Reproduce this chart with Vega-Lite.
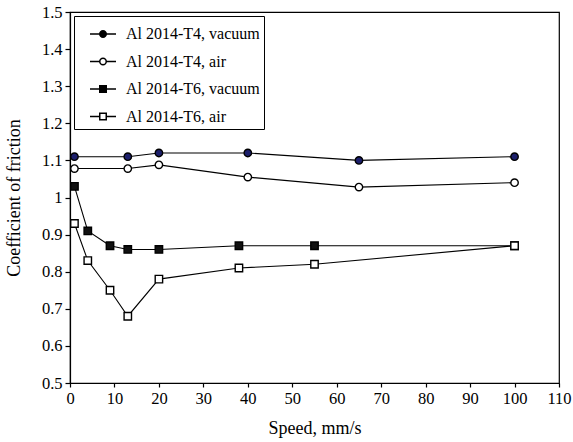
{
  "$schema": "https://vega.github.io/schema/vega-lite/v6.json",
  "autosize": "none",
  "width": 489,
  "height": 371,
  "padding": {"left": 70, "top": 12, "right": 14, "bottom": 59},
  "background": "white",
  "config": {
    "font": "Liberation Serif",
    "view": {"stroke": "black", "strokeWidth": 1.2},
    "axis": {
      "grid": false,
      "domainColor": "black",
      "domainWidth": 1.2,
      "tickColor": "black",
      "tickWidth": 1.2,
      "tickSize": 5,
      "labelFlush": false,
      "labelColor": "black",
      "labelFont": "Liberation Serif",
      "labelFontSize": 16.5,
      "titleFont": "Liberation Serif",
      "titleFontSize": 18,
      "titleFontWeight": "normal",
      "titleColor": "black"
    }
  },
  "data": {
    "values": [
      {"series": "Al 2014-T4, vacuum", "speed": 1, "cof": 1.11},
      {"series": "Al 2014-T4, vacuum", "speed": 13, "cof": 1.11},
      {"series": "Al 2014-T4, vacuum", "speed": 20, "cof": 1.12},
      {"series": "Al 2014-T4, vacuum", "speed": 40, "cof": 1.12},
      {"series": "Al 2014-T4, vacuum", "speed": 65, "cof": 1.1},
      {"series": "Al 2014-T4, vacuum", "speed": 100, "cof": 1.11},
      {"series": "Al 2014-T4, air", "speed": 1, "cof": 1.078},
      {"series": "Al 2014-T4, air", "speed": 13, "cof": 1.078},
      {"series": "Al 2014-T4, air", "speed": 20, "cof": 1.088},
      {"series": "Al 2014-T4, air", "speed": 40, "cof": 1.055},
      {"series": "Al 2014-T4, air", "speed": 65, "cof": 1.028},
      {"series": "Al 2014-T4, air", "speed": 100, "cof": 1.04},
      {"series": "Al 2014-T6, vacuum", "speed": 1, "cof": 1.03},
      {"series": "Al 2014-T6, vacuum", "speed": 4, "cof": 0.91},
      {"series": "Al 2014-T6, vacuum", "speed": 9, "cof": 0.87},
      {"series": "Al 2014-T6, vacuum", "speed": 13, "cof": 0.86},
      {"series": "Al 2014-T6, vacuum", "speed": 20, "cof": 0.86},
      {"series": "Al 2014-T6, vacuum", "speed": 38, "cof": 0.87},
      {"series": "Al 2014-T6, vacuum", "speed": 55, "cof": 0.87},
      {"series": "Al 2014-T6, vacuum", "speed": 100, "cof": 0.87},
      {"series": "Al 2014-T6, air", "speed": 1, "cof": 0.93},
      {"series": "Al 2014-T6, air", "speed": 4, "cof": 0.83},
      {"series": "Al 2014-T6, air", "speed": 9, "cof": 0.75},
      {"series": "Al 2014-T6, air", "speed": 13, "cof": 0.68},
      {"series": "Al 2014-T6, air", "speed": 20, "cof": 0.78},
      {"series": "Al 2014-T6, air", "speed": 38, "cof": 0.81},
      {"series": "Al 2014-T6, air", "speed": 55, "cof": 0.82},
      {"series": "Al 2014-T6, air", "speed": 100, "cof": 0.87}
    ]
  },
  "encoding": {
    "x": {
      "field": "speed", "type": "quantitative",
      "scale": {"domain": [0, 110], "nice": false, "zero": false},
      "axis": {"title": "Speed, mm/s", "values": [0,10,20,30,40,50,60,70,80,90,100,110], "tickSize": 4, "labelPadding": 3, "titlePadding": 13}
    },
    "y": {
      "field": "cof", "type": "quantitative",
      "scale": {"domain": [0.5, 1.5], "nice": false, "zero": false},
      "axis": {"title": "Coefficient of friction", "values": [0.5,0.6,0.7,0.8,0.9,1.0,1.1,1.2,1.3,1.4,1.5], "format": ".2~f", "labelPadding": 3, "titlePadding": 18}
    }
  },
  "resolve": {"scale": {"shape": "independent", "fill": "independent"}, "legend": {"shape": "independent", "fill": "independent"}},
  "layer": [
    {
      "mark": {"type": "line", "color": "black", "strokeWidth": 1.1},
      "encoding": {"detail": {"field": "series"}}
    },
    {
      "mark": {"type": "point", "filled": false, "stroke": "black", "strokeWidth": 1.4, "opacity": 1, "size": 55},
      "encoding": {
        "shape": {
          "field": "series", "type": "nominal",
          "scale": {
            "domain": ["Al 2014-T4, vacuum", "Al 2014-T4, air", "Al 2014-T6, vacuum", "Al 2014-T6, air"],
            "range": ["circle", "circle", "square", "square"]
          },
          "legend": null
        },
        "fill": {
          "field": "series", "type": "nominal",
          "scale": {
            "domain": ["Al 2014-T4, vacuum", "Al 2014-T4, air", "Al 2014-T6, vacuum", "Al 2014-T6, air"],
            "range": ["#1c1f6b", "white", "#111111", "white"]
          },
          "legend": null
        }
      }
    },
    {
      "mark": {"type": "point", "filled": true, "stroke": "black", "strokeWidth": 1.3, "opacity": 0, "size": 676},
      "encoding": {
        "shape": {
          "field": "series", "type": "nominal",
          "scale": {
            "domain": ["Al 2014-T4, vacuum", "Al 2014-T4, air", "Al 2014-T6, vacuum", "Al 2014-T6, air"],
            "range": [
              "M-1,0H-0.25M0.25,0H1M0.25,0A0.25,0.25 0 1 1 -0.25,0A0.25,0.25 0 1 1 0.25,0ZM0.15,0A0.15,0.15 0 1 1 -0.15,0A0.15,0.15 0 1 1 0.15,0ZM0.06,0A0.06,0.06 0 1 1 -0.06,0A0.06,0.06 0 1 1 0.06,0ZM-0.25,0H0.25",
              "M-1,0H-0.25M0.25,0H1M0.25,0A0.25,0.25 0 1 1 -0.25,0A0.25,0.25 0 1 1 0.25,0Z",
              "M-1,0H-0.25M0.25,0H1M-0.25,-0.25H0.25V0.25H-0.25ZM-0.25,-0.15H0.25M-0.25,-0.05H0.25M-0.25,0.05H0.25M-0.25,0.15H0.25",
              "M-1,0H-0.25M0.25,0H1M-0.25,-0.25H0.25V0.25H-0.25Z"
            ]
          },
          "legend": {
            "title": null,
            "orient": "none",
            "legendX": 4,
            "legendY": 4,
            "strokeColor": "black",
            "padding": 4,
            "symbolSize": 676,
            "symbolOffset": 11,
            "labelFont": "Liberation Serif",
            "labelFontSize": 16,
            "labelColor": "black",
            "labelOffset": 9,
            "rowPadding": 5.5,
            "encoding": {
              "symbols": {
                "update": {
                  "fill": {"signal": "datum.value == 'Al 2014-T4, vacuum' ? '#1c1f6b' : datum.value == 'Al 2014-T6, vacuum' ? '#111111' : 'white'"},
                  "stroke": {"value": "black"},
                  "strokeWidth": {"value": 1.3},
                  "opacity": {"value": 1},
                  "fillOpacity": {"value": 1},
                  "strokeOpacity": {"value": 1}
                }
              }
            }
          }
        },
        "fill": {
          "field": "series", "type": "nominal",
          "scale": {
            "domain": ["Al 2014-T4, vacuum", "Al 2014-T4, air", "Al 2014-T6, vacuum", "Al 2014-T6, air"],
            "range": ["#1c1f6b", "white", "#111111", "white"]
          },
          "legend": {
            "title": null,
            "orient": "none",
            "legendX": 4,
            "legendY": 4,
            "strokeColor": "black",
            "padding": 4,
            "symbolSize": 676,
            "symbolOffset": 11,
            "labelFont": "Liberation Serif",
            "labelFontSize": 16,
            "labelColor": "black",
            "labelOffset": 9,
            "rowPadding": 5.5,
            "encoding": {
              "symbols": {
                "update": {
                  "fill": {"signal": "datum.value == 'Al 2014-T4, vacuum' ? '#1c1f6b' : datum.value == 'Al 2014-T6, vacuum' ? '#111111' : 'white'"},
                  "stroke": {"value": "black"},
                  "strokeWidth": {"value": 1.3},
                  "opacity": {"value": 1},
                  "fillOpacity": {"value": 1},
                  "strokeOpacity": {"value": 1}
                }
              }
            }
          }
        }
      }
    }
  ]
}
